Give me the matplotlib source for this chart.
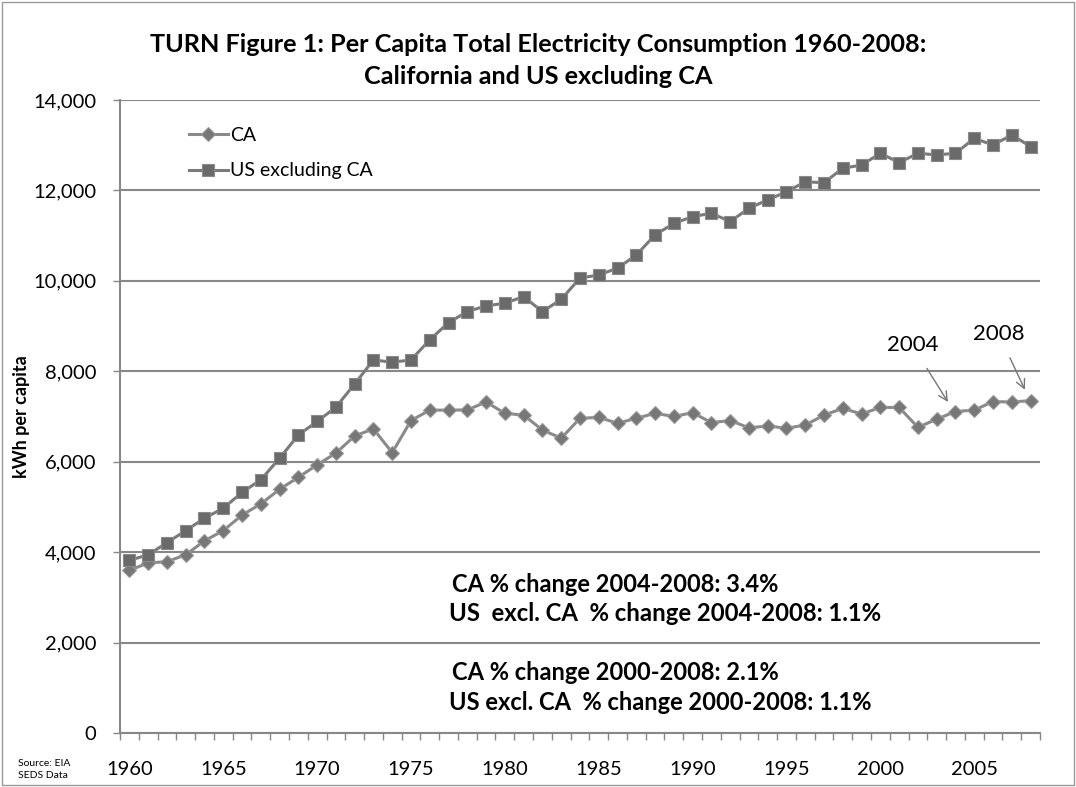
import numpy as np
import matplotlib
matplotlib.use("Agg")
from matplotlib import pyplot as plt
from matplotlib.patches import Rectangle

years = list(range(1960, 2009))

# CA per capita kWh
ca = [3600, 3760, 3790, 3940, 4250, 4475, 4820, 5065, 5390, 5655,
      5930, 6190, 6570, 6725, 6200, 6910, 7140, 7140, 7145, 7320,
      7070, 7030, 6700, 6520, 6960, 6980, 6850, 6960, 7070, 7000,
      7085, 6865, 6910, 6750, 6790, 6740, 6810, 7030, 7180, 7055,
      7200, 7200, 6760, 6940, 7110, 7140, 7330, 7320, 7350]

# US excluding CA per capita kWh
us = [3820, 3940, 4210, 4475, 4750, 4970, 5320, 5600, 6075, 6590,
      6890, 7205, 7720, 8250, 8200, 8250, 8695, 9075, 9320, 9445,
      9505, 9650, 9320, 9590, 10060, 10130, 10280, 10570, 11015, 11270,
      11420, 11495, 11310, 11605, 11790, 11970, 12190, 12170, 12490, 12560,
      12820, 12615, 12820, 12785, 12820, 13150, 13005, 13225, 12970]

xlabels = [1960, 1965, 1970, 1975, 1980, 1985, 1990, 1995, 2000, 2005]
ylabels = [0, 2000, 4000, 6000, 8000, 10000, 12000, 14000]

notes = ["CA % change 2004-2008: 3.4%",
         "US  excl. CA  % change 2004-2008: 1.1%",
         "CA % change 2000-2008: 2.1%",
         "US excl. CA  % change 2000-2008: 1.1%"]

plt.rcParams['font.family'] = ['Lato', 'DejaVu Sans']

fig = plt.figure(figsize=(10.76, 7.87), dpi=100)
ax = fig.add_axes([0.1115, 0.0686, 0.855, 0.8044])

ax.plot(years, ca, color='#8a8a8a', lw=2.2, marker='D', ms=7,
        mfc='#777777', mec='#9a9a9a', mew=0.8, label='CA', zorder=3)
ax.plot(years, us, color='#7a7a7a', lw=2.2, marker='s', ms=8.5,
        mfc='#6a6a6a', mec='#8a8a8a', mew=0.8, label='US excluding CA', zorder=3)

ax.set_xlim(1959.5, 2008.5)
ax.set_ylim(0, 14000)
ax.set_yticks(ylabels)
ax.set_yticklabels([f"{v:,}" for v in ylabels])
ax.set_xticks(xlabels)
ax.set_xticklabels([str(v) for v in xlabels])
ax.set_xticks(np.arange(1959.5, 2009, 1), minor=True)
ax.tick_params(axis='x', which='major', length=0, pad=20, labelsize=14.5)
ax.tick_params(axis='x', which='minor', length=5, color='#888888', width=1)
ax.tick_params(axis='y', length=5, color='#888888', width=1, labelsize=14.5, pad=12)

ax.grid(axis='y', color='#888888', lw=1.5)
ax.set_axisbelow(True)
for s in ['top', 'right']:
    ax.spines[s].set_visible(False)
for s in ['left', 'bottom']:
    ax.spines[s].set_color('#888888')
    ax.spines[s].set_linewidth(1.5)

ax.set_ylabel('kWh per capita', fontsize=13, fontweight='bold')
ax.yaxis.set_label_coords(-0.098, 0.5)

ax.legend(loc='upper left', bbox_to_anchor=(0.056, 0.985), frameon=False,
          fontsize=14, handlelength=2.0, handletextpad=0.1, labelspacing=0.95)

fig.suptitle("TURN Figure 1: Per Capita Total Electricity Consumption 1960-2008:\n"
             "California and US excluding CA",
             fontsize=18.2, fontweight='bold', y=0.958, linespacing=1.45)

# notes
ax.text(1977.2, 3290, notes[0], fontsize=17, fontweight='bold', va='center')
ax.text(1977.0, 2640, notes[1], fontsize=17.2, fontweight='bold', va='center')
ax.text(1977.2, 1330, notes[2], fontsize=17, fontweight='bold', va='center')
ax.text(1977.0, 680, notes[3], fontsize=17, fontweight='bold', va='center')

ax.annotate('2004', xy=(2003.6, 7320), xytext=(2001.7, 8580), ha='center', va='center',
            fontsize=16, arrowprops=dict(arrowstyle='->', color='#777777', lw=1,
                                         shrinkA=9, shrinkB=0))
ax.annotate('2008', xy=(2007.7, 7590), xytext=(2006.3, 8830), ha='center', va='center',
            fontsize=16, arrowprops=dict(arrowstyle='->', color='#777777', lw=1,
                                         shrinkA=9, shrinkB=0))

fig.text(0.017, 0.022, 'Source: EIA\nSEDS Data', fontsize=7.5, va='center', linespacing=1.5)

fig.patches.append(Rectangle((0.002, 0.002), 0.996, 0.996, transform=fig.transFigure,
                             fill=False, edgecolor='#999999', lw=1))

fig.savefig('out.png', dpi=100)
